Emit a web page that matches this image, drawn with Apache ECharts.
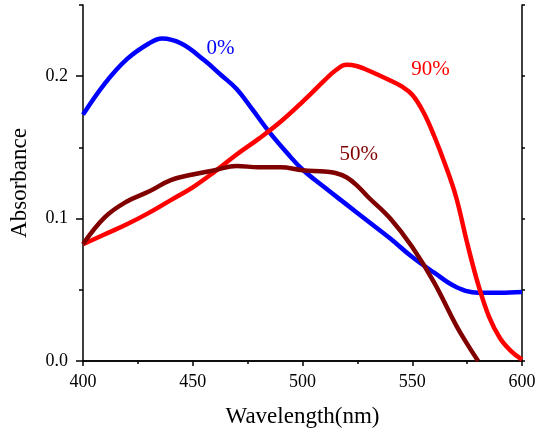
<!DOCTYPE html>
<html>
<head>
<meta charset="utf-8">
<script src="https://cdn.jsdelivr.net/npm/echarts@6/dist/echarts.min.js"></script>
<style>html,body{margin:0;padding:0;background:#fff}#c{width:540px;height:433px}</style>
</head>
<body>
<div id="c"></div>
<script>
var wl0 = [400,410,420,430,436,445,455,463,470,477,485,493,500,510,520,530,540,550,560,570,580,590,600];
var abs0 = [0.173,0.195,0.212,0.223,0.2265,0.2228,0.2115,0.2007,0.191,0.177,0.1605,0.146,0.1345,0.122,0.110,0.098,0.086,0.073,0.062,0.052,0.048,0.048,0.0485];
var wl90 = [400,410,420,430,440,450,460,470,480,490,500,510,515,520,525,530,540,545,550,555,560,565,570,575,580,585,590,595,600];
var abs90 = [0.082,0.089,0.096,0.104,0.113,0.122,0.133,0.145,0.156,0.168,0.182,0.197,0.204,0.208,0.207,0.204,0.197,0.193,0.187,0.175,0.158,0.138,0.115,0.083,0.054,0.031,0.016,0.007,0.001];
var wl50 = [400,410,420,430,440,450,460,470,480,490,500,510,515,520,525,530,540,550,560,570,575,580];
var abs50 = [0.082,0.101,0.112,0.119,0.127,0.131,0.134,0.137,0.136,0.136,0.134,0.133,0.132,0.129,0.123,0.115,0.100,0.080,0.055,0.025,0.012,0.0];
var seriesNames = ['0%','90%','50%'];
var seriesColors = ['#0000ff','#ff0000','#800000'];
var labelPos = [[462.6,0.2196],[558.3,0.205],[525.6,0.1448]];
var xMajorTicks = [400,450,500,550,600];
var xMinorTicks = [425,475,525,575];
var yMajorTicks = [0.0,0.1,0.2];
var yMinorTicks = [0.05,0.15,0.25];
var xTitle = 'Wavelength(nm)';
var yTitle = 'Absorbance';

var FONT = 'Liberation Serif';
function pairs(x,y){return x.map(function(v,i){return [v,y[i]];});}
var datas = [pairs(wl0,abs0),pairs(wl90,abs90),pairs(wl50,abs50)];

var lineStyle = {color:'#000',width:1.5};
var xBase = {type:'value',min:400,max:600,gridIndex:0};
var yBase = {type:'value',min:0,max:0.25,gridIndex:0};

var option = {
  animation:false,
  grid:{left:81,right:18,top:5,bottom:71,containLabel:false},
  xAxis:[
    Object.assign({},xBase,{position:'bottom',interval:25,
      axisLine:{show:true,lineStyle:lineStyle},
      axisTick:{show:true,inside:false,length:5,lineStyle:lineStyle,customValues:xMajorTicks},
      axisLabel:{show:true,customValues:xMajorTicks,margin:12,fontFamily:FONT,fontSize:18,color:'#000'},
      splitLine:{show:false},
      name:xTitle,nameLocation:'middle',nameGap:44,nameTextStyle:{fontFamily:FONT,fontSize:23,color:'#000'}}),
    Object.assign({},xBase,{position:'bottom',interval:25,
      axisLine:{show:false},
      axisTick:{show:true,inside:false,length:3,lineStyle:lineStyle,customValues:xMinorTicks},
      axisLabel:{show:false},splitLine:{show:false}}),
    Object.assign({},xBase,{position:'top',interval:25,
      axisLine:{show:true,lineStyle:lineStyle},
      axisTick:{show:true,inside:true,length:3,lineStyle:lineStyle},
      axisLabel:{show:false},splitLine:{show:false}})
  ],
  yAxis:[
    Object.assign({},yBase,{position:'left',interval:0.05,
      axisLine:{show:true,lineStyle:lineStyle},
      axisTick:{show:true,inside:false,length:7,lineStyle:lineStyle,customValues:yMajorTicks},
      axisLabel:{show:true,customValues:yMajorTicks,margin:15,fontFamily:FONT,fontSize:18,color:'#000',
        formatter:function(v){return v.toFixed(1);}},
      splitLine:{show:false},
      name:yTitle,nameLocation:'middle',nameGap:52,nameTextStyle:{fontFamily:FONT,fontSize:23,color:'#000'}}),
    Object.assign({},yBase,{position:'left',interval:0.05,
      axisLine:{show:false},
      axisTick:{show:true,inside:false,length:4,lineStyle:lineStyle,customValues:yMinorTicks},
      axisLabel:{show:false},splitLine:{show:false}}),
    Object.assign({},yBase,{position:'right',interval:0.05,
      axisLine:{show:true,lineStyle:lineStyle},
      axisTick:{show:true,inside:false,length:3,lineStyle:lineStyle},
      axisLabel:{show:false},splitLine:{show:false}})
  ],
  series:datas.map(function(d,i){
    return {
      type:'line',name:seriesNames[i],data:d,xAxisIndex:0,yAxisIndex:0,
      showSymbol:false,symbol:'none',smooth:0.4,clip:true,
      lineStyle:{color:seriesColors[i],width:4.5},
      markPoint:{symbol:'circle',symbolSize:0,silent:true,
        label:{show:true,formatter:seriesNames[i],fontFamily:FONT,fontSize:21,color:seriesColors[i],position:'inside'},
        data:[{coord:labelPos[i]}]}
    };
  })
};
var chart = echarts.init(document.getElementById('c'),null,{renderer:'canvas'});
chart.setOption(option);
</script>
</body>
</html>
